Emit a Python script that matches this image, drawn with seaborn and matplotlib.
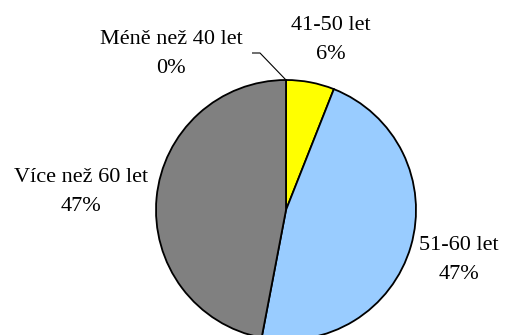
import numpy as np
import matplotlib
matplotlib.use("Agg")
import matplotlib.pyplot as plt
import seaborn as sns

# Age groups and their shares (%)
categories = ["Méně než 40 let", "41-50 let", "51-60 let", "Více než 60 let"]
shares = [0, 6, 47, 47]
pct_labels = ["0%", "6%", "47%", "47%"]

colors = ["#9999FF", "#FFFF00", "#99CCFF", "#808080"]

sns.set_theme(style="white")
plt.rcParams["font.family"] = ["Liberation Serif", "DejaVu Serif"]

W, H = 505, 335
fig = plt.figure(figsize=(W / 100, H / 100), dpi=100)
ax = fig.add_axes([0, 0, 1, 1])

# pie centre and radius in pixels
cx, cy, r = 286, 210, 130

wedges, _ = ax.pie(
    shares,
    colors=colors,
    startangle=90,
    counterclock=False,
    radius=1.0,
    wedgeprops=dict(edgecolor="black", linewidth=1.3),
)

ax.set_xlim(-cx / r, (W - cx) / r)
ax.set_ylim(-(H - cy) / r, cy / r)
ax.set_aspect("auto")
ax.axis("off")

# label anchor positions (pixels, from top-left)
label_px = [(171, 54), (331, 40), (459, 260), (81, 192)]
for name, pct, (px, py) in zip(categories, pct_labels, label_px):
    ax.text((px - cx) / r, (cy - py) / r, f"{name}\n{pct}",
            ha="center", va="center", multialignment="center",
            fontsize=16, linespacing=1.75, color="black")

# leader line for the zero-size slice
w0 = wedges[0]
ang = np.deg2rad(w0.theta1)
tip = (np.cos(ang), np.sin(ang))
ax.plot([(252 - cx) / r, (260 - cx) / r, tip[0]],
        [(cy - 53) / r, (cy - 53) / r, tip[1]],
        color="black", linewidth=0.8, solid_capstyle="butt")

fig.savefig("out.png", dpi=100)
